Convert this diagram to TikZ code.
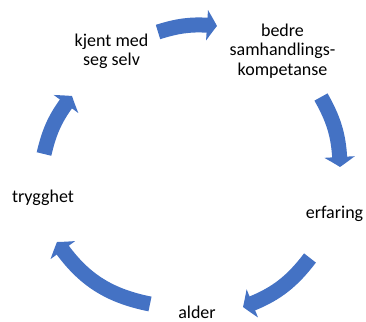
\documentclass[tikz,border=0pt]{standalone}
\usepackage{fontspec}
\setmainfont{Carlito}
\usetikzlibrary{arrows.meta,bending}
\definecolor{cycblue}{HTML}{4472C4}
\begin{document}
\begin{tikzpicture}[x=1bp,y=1bp,
  lbl/.style={inner sep=0pt,anchor=base,align=center,text=black,
    font=\fontsize{18bp}{19.8bp}\selectfont},
  cycarrow/.style={draw=cycblue,line width=15bp,line cap=butt,
    -{Triangle[width=30bp,length=10bp,fill=cycblue,bend]}}]
\useasboundingbox (0,0) rectangle (366,322);
% labels (base anchor = baseline of the last line)
\node[lbl] (kjent) at (111.5,256.2) {kjent med\\seg selv};
\node[lbl] (bedre) at (282.5,246.3) {bedre\\samhandlings-\\kompetanse};
\node[lbl] (erfaring) at (334.5,103.5) {erfaring};
\node[lbl] (alder) at (197,4) {alder};
\node[lbl] (trygghet) at (43,119.3) {trygghet};
% arrow end points
\coordinate (a1s) at (158,290);
\coordinate (a1e) at (217,296);
\coordinate (a2s) at (321,225);
\coordinate (a2e) at (340,155);
\coordinate (a3s) at (310,64);
\coordinate (a3e) at (243,15);
\coordinate (a4s) at (150,18);
\coordinate (a4e) at (57,80);
\coordinate (a5s) at (44,168);
\coordinate (a5e) at (72,226);
% arrows
\draw[cycarrow] (a1s) to[bend left=11.6] (a1e);
\draw[cycarrow] (a2s) to[bend left=14.3] (a2e);
\draw[cycarrow] (a3s) to[bend left=16.4] (a3e);
\draw[cycarrow] (a4s) to[bend left=22.3] (a4e);
\draw[cycarrow] (a5s) to[bend left=12.7] (a5e);
\end{tikzpicture}
\end{document}
